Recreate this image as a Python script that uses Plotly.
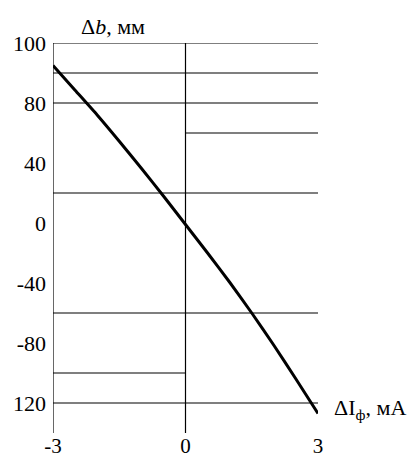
import plotly.graph_objects as go

# curve data
x_vals = [-3, -2.5, -2, -1.5, -1, -0.5, 0, 0.5, 1, 1.5, 2, 2.5, 3]
db_vals = [105, 88.5, 72, 54.5, 36.5, 18, -1, -20, -39.5, -60, -81.5, -104, -127]

# reference lines
full_lines = [120, 100, 80, 20, -60, -120]
right_lines = [60]
left_lines = [-100]

y_tickvals = [120, 80, 40, 0, -40, -80, -120]
y_ticktext = ["100", "80", "40", "0", "-40", "-80", "120"]
x_tickvals = [-3, 0, 3]
x_ticktext = ["-3", "0", "3"]

X_MIN, X_MAX = -3, 3
Y_MIN, Y_MAX = -140, 120

fig = go.Figure()
lw = dict(color="black", width=1.2)

for y in full_lines:
    fig.add_trace(go.Scatter(x=[X_MIN, X_MAX], y=[y, y], mode="lines", line=lw,
                             showlegend=False, hoverinfo="skip"))
for y in right_lines:
    fig.add_trace(go.Scatter(x=[0, X_MAX], y=[y, y], mode="lines", line=lw,
                             showlegend=False, hoverinfo="skip"))
for y in left_lines:
    fig.add_trace(go.Scatter(x=[X_MIN, 0], y=[y, y], mode="lines", line=lw,
                             showlegend=False, hoverinfo="skip"))
# vertical lines at x=-3 and x=0
for xv in [X_MIN, 0]:
    fig.add_trace(go.Scatter(x=[xv, xv], y=[Y_MIN, Y_MAX], mode="lines", line=lw,
                             showlegend=False, hoverinfo="skip", cliponaxis=False))

fig.add_trace(go.Scatter(x=x_vals, y=db_vals, mode="lines",
                         line=dict(color="black", width=3, shape="spline", smoothing=0.6),
                         showlegend=False, hoverinfo="skip"))

font = dict(family="Liberation Serif", size=22, color="black")
xfont = dict(family="Liberation Serif", size=21, color="black")
tfont = dict(family="Liberation Serif", size=22, color="black")

# page body has an 8px margin, so the figure is sized/offset to compensate
fig.update_layout(
    width=410, height=451,
    margin=dict(l=45, r=100, t=35, b=26, autoexpand=False),
    plot_bgcolor="white", paper_bgcolor="white",
    font=font,
    xaxis=dict(range=[X_MIN, X_MAX], showgrid=False, zeroline=False, showline=False,
               tickvals=x_tickvals, ticktext=x_ticktext, ticks="", tickfont=xfont,
               automargin=False, ticklabelstandoff=-2),
    yaxis=dict(range=[Y_MIN, Y_MAX], showgrid=False, zeroline=False, showline=False,
               tickvals=y_tickvals, ticktext=y_ticktext, ticks="", tickfont=font,
               automargin=False, ticklabelstandoff=6),
    annotations=[
        dict(x=-1.65, y=Y_MAX, xref="x", yref="y", yshift=2,
             text="Δ<i>b</i>, мм", showarrow=False, font=tfont,
             xanchor="center", yanchor="bottom"),
        dict(x=X_MAX, y=-124, xref="x", yref="y", xshift=14,
             text="ΔI<sub>ф</sub>, мА", showarrow=False, font=tfont,
             xanchor="left", yanchor="middle"),
    ],
)

fig.write_html("out.html")
